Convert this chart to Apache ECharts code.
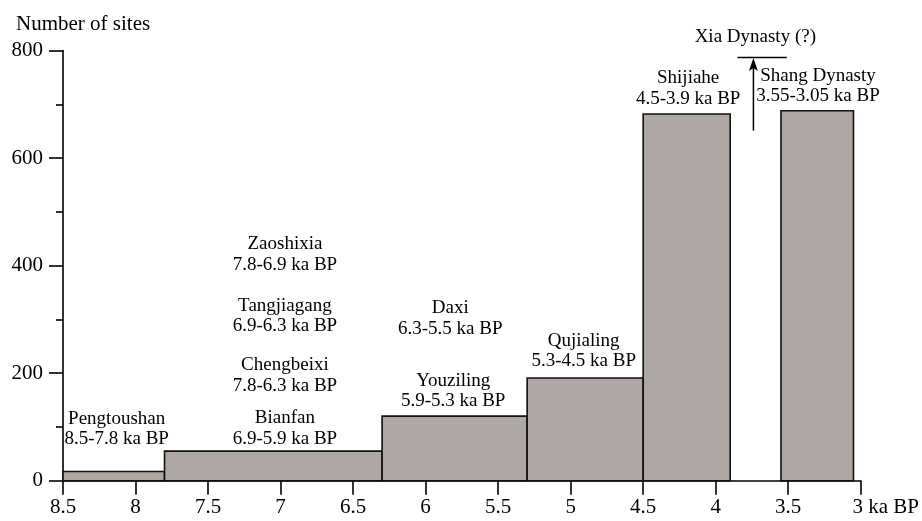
<!DOCTYPE html>
<html>
<head>
<meta charset="utf-8">
<script src="https://cdn.jsdelivr.net/npm/echarts@6/dist/echarts.min.js"></script>
<style>html,body{margin:0;padding:0;background:#fff;}#c{width:922px;height:521px;}</style>
</head>
<body>
<div id="c"></div>
<script>
// Culture periods (ka BP) and number of sites
var periodStart = [8.5, 7.8, 6.3, 5.3, 4.5, 3.55];
var periodEnd   = [7.8, 6.3, 5.3, 4.5, 3.9, 3.05];
var siteCounts  = [17, 55, 120, 191, 682, 688];

// Axis ticks
var xTicks = [8.5, 8, 7.5, 7, 6.5, 6, 5.5, 5, 4.5, 4, 3.5, 3];
var yTicks = [0, 200, 400, 600, 800];

// Culture annotations (name, range, anchor in data units)
var labelNames  = ['Pengtoushan', 'Zaoshixia', 'Tangjiagang', 'Chengbeixi', 'Bianfan', 'Daxi', 'Youziling', 'Qujialing', 'Shijiahe', 'Shang Dynasty'];
var labelRanges = ['8.5-7.8 ka BP', '7.8-6.9 ka BP', '6.9-6.3 ka BP', '7.8-6.3 ka BP', '6.9-5.9 ka BP', '6.3-5.5 ka BP', '5.9-5.3 ka BP', '5.3-4.5 ka BP', '4.5-3.9 ka BP', '3.55-3.05 ka BP'];
var labelX      = [8.13, 6.97, 6.97, 6.97, 6.97, 5.83, 5.81, 4.91, 4.19, 3.295];
var labelY      = [96, 421, 306, 195.5, 97, 302, 167, 241.5, 729, 734];

// Xia Dynasty marker
var xiaLabel = 'Xia Dynasty (?)';
var xiaLabelPos = [3.727, 825];
var xiaBar = [3.85, 3.51, 787];
var xiaArrow = [3.74, 651, 786];

var FONT = '"Liberation Serif", "Times New Roman", serif';

var chart = echarts.init(document.getElementById('c'), null, {renderer: 'canvas'});

var barData = periodStart.map(function (s, i) { return [s, periodEnd[i], siteCounts[i]]; });
var textData = labelNames.map(function (n, i) { return [labelX[i], labelY[i], n, labelRanges[i]]; });

chart.setOption({
  animation: false,
  backgroundColor: '#ffffff',
  title: {
    text: 'Number of sites',
    left: 11, top: 9,
    textStyle: {fontFamily: FONT, fontSize: 21, fontWeight: 'normal', color: '#000'}
  },
  grid: {left: 63, right: 59, top: 50.5, bottom: 40.3, containLabel: false},
  xAxis: {
    type: 'value', min: 3, max: 8.5, interval: 0.5, inverse: true,
    axisLine: {show: true, lineStyle: {color: '#000', width: 1.6}},
    axisTick: {show: true, length: 14, lineStyle: {color: '#000', width: 1.6}},
    splitLine: {show: false},
    axisLabel: {
      fontFamily: FONT, fontSize: 21, color: '#000', margin: 16,
      showMinLabel: true, showMaxLabel: true,
      formatter: function (v) {
        if (Math.abs(v - 3) < 1e-9) return '{a|3 ka BP}';
        return String(v);
      },
      rich: {a: {fontFamily: FONT, fontSize: 21, color: '#000', padding: [0, 0, 0, 50]}}
    }
  },
  yAxis: {
    type: 'value', min: 0, max: 800, interval: 200,
    axisLine: {show: true, lineStyle: {color: '#000', width: 1.6}},
    axisTick: {show: true, length: 14, lineStyle: {color: '#000', width: 1.6}},
    minorTick: {show: true, splitNumber: 2, length: 7, lineStyle: {color: '#000', width: 1.6}},
    splitLine: {show: false},
    axisLabel: {fontFamily: FONT, fontSize: 21, color: '#000', margin: 20}
  },
  series: [
    {
      type: 'custom',
      clip: false,
      data: barData,
      renderItem: function (params, api) {
        var p0 = api.coord([api.value(0), 0]);
        var p1 = api.coord([api.value(1), api.value(2)]);
        return {
          type: 'rect',
          shape: {x: Math.min(p0[0], p1[0]), y: p1[1], width: Math.abs(p1[0] - p0[0]), height: p0[1] - p1[1]},
          style: {fill: '#afa7a3', stroke: '#111', lineWidth: 1.6}
        };
      },
      z: 2
    },
    {
      type: 'custom',
      clip: false,
      silent: true,
      data: textData,
      renderItem: function (params, api) {
        var p = api.coord([api.value(0), api.value(1)]);
        var d = textData[params.dataIndex];
        return {
          type: 'text',
          x: p[0], y: p[1],
          style: {
            text: d[2] + '\n' + d[3],
            fontFamily: FONT, fontSize: 19, lineHeight: 20.5,
            fill: '#000', align: 'center', verticalAlign: 'middle'
          },
          z2: 10
        };
      },
      z: 5
    },
    {
      type: 'custom',
      clip: false,
      silent: true,
      data: [[0]],
      renderItem: function (params, api) {
        var lp = api.coord(xiaLabelPos);
        var b0 = api.coord([xiaBar[0], xiaBar[2]]);
        var b1 = api.coord([xiaBar[1], xiaBar[2]]);
        var a0 = api.coord([xiaArrow[0], xiaArrow[1]]);
        var a1 = api.coord([xiaArrow[0], xiaArrow[2]]);
        return {
          type: 'group',
          children: [
            {type: 'text', x: lp[0], y: lp[1], style: {text: xiaLabel, fontFamily: FONT, fontSize: 19, fill: '#000', align: 'center', verticalAlign: 'middle'}},
            {type: 'line', shape: {x1: b0[0], y1: b0[1], x2: b1[0], y2: b1[1]}, style: {stroke: '#000', lineWidth: 1.5}},
            {type: 'line', shape: {x1: a0[0], y1: a0[1], x2: a1[0], y2: a1[1] + 8}, style: {stroke: '#000', lineWidth: 1.5}},
            {type: 'polygon', shape: {points: [[a1[0], a1[1]], [a1[0] - 4.5, a1[1] + 13], [a1[0], a1[1] + 10], [a1[0] + 4.5, a1[1] + 13]]}, style: {fill: '#000'}}
          ]
        };
      },
      z: 5
    }
  ]
});
</script>
</body>
</html>
